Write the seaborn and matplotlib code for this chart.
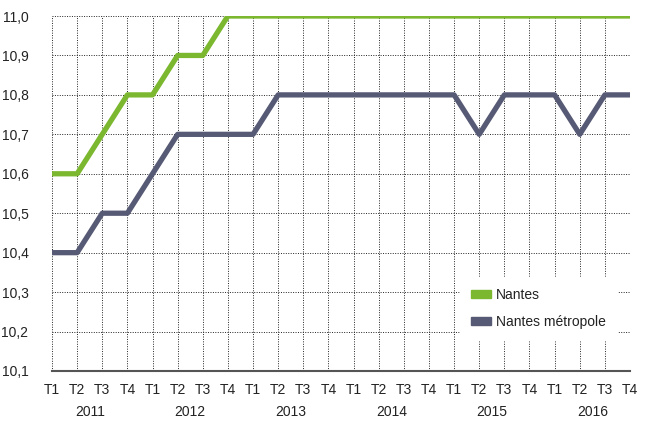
import numpy as np
import pandas as pd
import matplotlib
matplotlib.use("Agg")
import matplotlib.pyplot as plt
from matplotlib.patches import Patch
import seaborn as sns

# ── data ──
years = ["2011", "2012", "2013", "2014", "2015", "2016"]
quarters = ["T1", "T2", "T3", "T4"]
nantes = [10.6, 10.6, 10.7, 10.8, 10.8, 10.9, 10.9, 11.0,
          11.0, 11.0, 11.0, 11.0, 11.0, 11.0, 11.0, 11.0,
          11.0, 11.0, 11.0, 11.0, 11.0, 11.0, 11.0, 11.0]
metropole = [10.4, 10.4, 10.5, 10.5, 10.6, 10.7, 10.7, 10.7,
             10.7, 10.8, 10.8, 10.8, 10.8, 10.8, 10.8, 10.8,
             10.8, 10.7, 10.8, 10.8, 10.8, 10.7, 10.8, 10.8]
series_names = ["Nantes", "Nantes métropole"]
colors = ["#7cb82f", "#575a75"]

n = len(nantes)
df = pd.DataFrame({
    "idx": list(range(n)) * 2,
    "value": nantes + metropole,
    "serie": [series_names[0]] * n + [series_names[1]] * n,
})

sns.set_style("white")
plt.rcParams["font.family"] = ["Liberation Sans", "DejaVu Sans"]
plt.rcParams["text.color"] = "#222222"

fig = plt.figure(figsize=(6.47, 4.21), dpi=100)
ax = fig.add_axes([52 / 647, 50 / 421, 578 / 647, 355 / 421])

sns.lineplot(data=df, x="idx", y="value", hue="serie", palette=colors,
             linewidth=3.8, ax=ax, legend=False, zorder=3)

ax.set_xlim(0, n - 1)
ax.set_ylim(10.1, 11.0)
ax.set_xticks(range(n))
ax.set_xticklabels(quarters * len(years), fontsize=10)
yt = np.round(np.arange(10.1, 11.01, 0.1), 1)
ax.set_yticks(yt)
ax.set_yticklabels([f"{v:.1f}".replace(".", ",") for v in yt], fontsize=10)
ax.tick_params(axis="both", length=0, colors="#222222")
ax.tick_params(axis="x", pad=9)
ax.tick_params(axis="y", pad=17)

ax.grid(True, color="#222222", linestyle=(0, (1, 1.5)), linewidth=0.7)
for s in ["top", "right", "left"]:
    ax.spines[s].set_visible(False)
ax.spines["bottom"].set_color("#555555")
ax.spines["bottom"].set_linewidth(1.5)
ax.spines["bottom"].set_zorder(4)
ax.set_xlabel("")
ax.set_ylabel("")

for i, yr in enumerate(years):
    ax.text(i * 4 + 1.5, -0.115, yr, transform=ax.get_xaxis_transform(),
            ha="center", va="center", fontsize=10)

# legend with white background, bar-shaped patches
handles = [Patch(facecolor=c, edgecolor=c) for c in colors]
leg = ax.legend(handles, series_names, loc="lower right",
                bbox_to_anchor=(0.977, 0.087), frameon=True, fontsize=10,
                handlelength=1.45, handleheight=0.55, labelspacing=0.95,
                borderpad=0.8, borderaxespad=0, handletextpad=0.35,
                fancybox=False)
leg.get_frame().set_edgecolor("white")
leg.get_frame().set_facecolor("white")
leg.get_frame().set_alpha(1)
leg.set_zorder(5)

fig.savefig("out.png", dpi=100)
